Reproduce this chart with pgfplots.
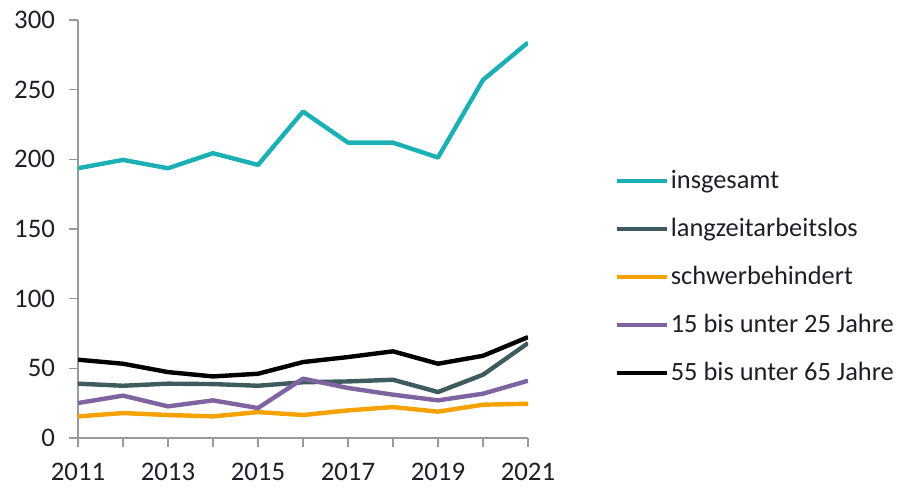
\documentclass[border=0pt]{standalone}
\usepackage{pgfplots}
\pgfplotsset{compat=1.18}
\usepackage{fontspec}
\setmainfont{Carlito}
\definecolor{cteal}{HTML}{1BB0B5}
\definecolor{cslate}{HTML}{3E5B5F}
\definecolor{corange}{HTML}{F5A200}
\definecolor{cpurple}{HTML}{8064A2}
\definecolor{axgray}{HTML}{9A9A9A}
\definecolor{txt}{HTML}{1E1E28}

\begin{document}
\begin{tikzpicture}
\path[use as bounding box] (-39pt,-24.5pt) rectangle (409.5pt,219pt);
\begin{axis}[
    at={(0,0)}, anchor=south west,
    scale only axis,
    width=225pt, height=209pt,
    xmin=2011, xmax=2021,
    ymin=0, ymax=300,
    axis lines*=left,
    axis line style={axgray, line width=0.6pt},
    tick style={axgray, line width=0.6pt},
    tick align=outside,
    major tick length=4.5pt,
    xtick={2011,...,2021},
    xticklabels={2011,,2013,,2015,,2017,,2019,,2021},
    ytick={0,50,...,300},
    /pgf/number format/assume math mode=true,
    /pgf/number format/1000 sep={},
    ticklabel style={font=\fontsize{13.4}{15}\selectfont, text=txt},
    yticklabel style={xshift=-3.5pt},
    xticklabel style={inner ysep=0.3pt, yshift=-7.5pt},
    legend style={
        at={(1.193,0.65)}, anchor=north west,
        draw=none, fill=none,
        font=\fontsize{13.2}{15}\selectfont, text=txt,
        row sep=9.3pt,
        inner sep=0pt,
        nodes={inner xsep=0.6pt},
    },
    legend cell align=left,
    legend image code/.code={\draw[#1, line width=2.2pt] (0pt,0pt) -- (25pt,0pt);},
    every axis plot/.append style={line width=2.2pt, line join=round},
]
\addplot[cteal] coordinates {(2011,193.6) (2012,199.6) (2013,193.6) (2014,204.4) (2015,196) (2016,234.3) (2017,212) (2018,212) (2019,201.3) (2020,257) (2021,283.8)};
\addlegendentry{insgesamt}
\addplot[cslate] coordinates {(2011,39) (2012,37.5) (2013,39) (2014,38.7) (2015,37.5) (2016,40) (2017,40.6) (2018,41.8) (2019,33) (2020,45.4) (2021,68.1)};
\addlegendentry{langzeitarbeitslos}
\addplot[corange] coordinates {(2011,15.5) (2012,17.9) (2013,16.5) (2014,15.5) (2015,18.6) (2016,16.5) (2017,19.8) (2018,22.2) (2019,18.9) (2020,23.9) (2021,24.6)};
\addlegendentry{schwerbehindert}
\addplot[cpurple] coordinates {(2011,25.1) (2012,30.4) (2013,22.7) (2014,27) (2015,21.5) (2016,42.6) (2017,35.9) (2018,31.1) (2019,27) (2020,31.8) (2021,41.1)};
\addlegendentry{15 bis unter 25 Jahre}
\addplot[black] coordinates {(2011,56.2) (2012,53.3) (2013,47.3) (2014,44.2) (2015,46.1) (2016,54.5) (2017,58.1) (2018,62.2) (2019,53.3) (2020,59) (2021,72.4)};
\addlegendentry{55 bis unter 65 Jahre}
\end{axis}
\end{tikzpicture}
\end{document}
